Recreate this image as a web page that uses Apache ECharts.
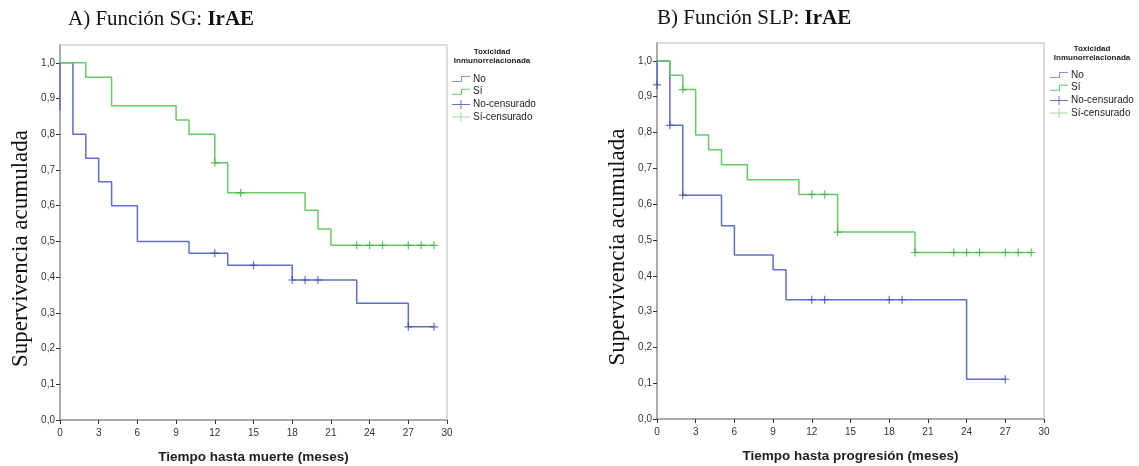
<!DOCTYPE html>
<html>
<head>
<meta charset="utf-8">
<script src="https://cdn.jsdelivr.net/npm/echarts@6/dist/echarts.min.js"></script>
<style>html,body{margin:0;padding:0;background:#fff}#c{width:1139px;height:466px}</style>
</head>
<body>
<div id="c"></div>
<script>
// ---- Data ----
// A) Overall survival (SG)
const sgNoTime = [0, 0, 1, 2, 3, 4, 6, 10, 13, 18, 23, 27, 29];
const sgNoSurv = [0.867, 1, 0.8, 0.733, 0.667, 0.6, 0.5, 0.467, 0.433, 0.392, 0.327, 0.261, 0.261];
const sgNoCensTime = [12, 15, 18, 19, 20, 27, 29];
const sgNoCensSurv = [0.467, 0.433, 0.392, 0.392, 0.392, 0.261, 0.261];
const sgSiTime = [0, 2, 4, 9, 10, 12, 13, 19, 20, 21, 29];
const sgSiSurv = [1, 0.96, 0.88, 0.84, 0.80, 0.72, 0.636, 0.587, 0.535, 0.489, 0.489];
const sgSiCensTime = [12, 14, 23, 24, 25, 27, 28, 29];
const sgSiCensSurv = [0.72, 0.636, 0.489, 0.489, 0.489, 0.489, 0.489, 0.489];
// B) Progression-free survival (SLP)
const slpNoTime = [0, 0, 1, 2, 5, 6, 9, 10, 24, 27];
const slpNoSurv = [0.933, 1, 0.82, 0.625, 0.54, 0.458, 0.417, 0.333, 0.111, 0.111];
const slpNoCensTime = [0, 1, 2, 12, 13, 18, 19, 27];
const slpNoCensSurv = [0.933, 0.82, 0.625, 0.333, 0.333, 0.333, 0.333, 0.111];
const slpSiTime = [0, 1, 2, 3, 4, 5, 7, 11, 14, 20, 29];
const slpSiSurv = [1, 0.96, 0.92, 0.793, 0.752, 0.71, 0.668, 0.627, 0.522, 0.465, 0.465];
const slpSiCensTime = [2, 12, 13, 14, 20, 23, 24, 25, 27, 28, 29];
const slpSiCensSurv = [0.92, 0.627, 0.627, 0.522, 0.465, 0.465, 0.465, 0.465, 0.465, 0.465, 0.465];

const yTicks = [0, 0.1, 0.2, 0.3, 0.4, 0.5, 0.6, 0.7, 0.8, 0.9, 1.0];
const legendNames = ['No', 'Sí', 'No-censurado', 'Sí-censurado'];
const titles = ['A) Función SG: ', 'B) Función SLP: '];
const titleBold = 'IrAE';
const xNames = ['Tiempo hasta muerte (meses)', 'Tiempo hasta progresión (meses)'];
const yName = 'Supervivencia acumulada';
const legendTitle = 'Toxicidad\nInmunorrelacionada';

// ---- Styling ----
const BLUE = '#5b70c6', BLUE_D = '#3a4fb2', BLUE_L = '#8595d8';
const GREEN = '#66ca66', GREEN_D = '#39b039', GREEN_L = '#7fd47f';
const CROSS = 'path://M0,3.4 L8,3.4 L8,4.6 L0,4.6 Z M3.4,0 L4.6,0 L4.6,8 L3.4,8 Z';
const STEP_ICON = 'path://M0,5 L9,5 L9,0 L18,0 L18,1 L10,1 L10,6 L0,6 Z';
const CROSS_ICON = 'path://M0,4 L18,4 L18,5 L0,5 Z M8.5,0 L9.5,0 L9.5,9 L8.5,9 Z';

const zip = (a, b) => a.map((v, i) => [v, b[i]]);

const grids = [
  { left: 60, right: 692, top: 45, bottom: 46 },
  { left: 657, right: 95, top: 43, bottom: 47 }
];

function axisPair(i) {
  const x = {
    type: 'value', gridIndex: i, min: 0, max: 30, interval: 3,
    name: xNames[i], nameLocation: 'middle', nameGap: 30,
    nameTextStyle: { fontFamily: 'Liberation Sans, Arial', fontWeight: 'bold', fontSize: 13.5, color: '#222' },
    axisLine: { show: true, lineStyle: { color: '#9a9a9a', width: 1.5 } },
    axisTick: { show: true, length: 4, lineStyle: { color: '#333' } },
    axisLabel: { fontFamily: 'Liberation Sans, Arial', fontSize: 10, color: '#333', margin: 8 },
    splitLine: { show: false }
  };
  const y = {
    type: 'value', gridIndex: i, min: 0, max: 1.05,
    name: yName, nameLocation: 'middle', nameRotate: 90, nameGap: 28,
    nameTextStyle: { fontFamily: 'Liberation Serif, serif', fontSize: 23, color: '#111', padding: [0, 32, 0, 0] },
    axisLine: { show: true, lineStyle: { color: '#9a9a9a', width: 1.5 } },
    axisTick: { show: true, length: 4, lineStyle: { color: '#333' }, customValues: yTicks },
    axisLabel: {
      fontFamily: 'Liberation Sans, Arial', fontSize: 10, color: '#333', margin: 5,
      customValues: yTicks,
      formatter: v => v.toFixed(1).replace('.', ',')
    },
    splitLine: { show: false }
  };
  return [x, y];
}
const ax0 = axisPair(0), ax1 = axisPair(1);

function stepSeries(name, i, t, s, color) {
  return {
    type: 'line', name, xAxisIndex: i, yAxisIndex: i, step: 'end',
    data: zip(t, s), showSymbol: false, symbol: 'none',
    lineStyle: { color, width: 1.5 }, itemStyle: { color }, z: name === 'Sí' ? 3 : 2
  };
}
function censSeries(name, i, t, s, color) {
  return {
    type: 'scatter', name, xAxisIndex: i, yAxisIndex: i,
    data: zip(t, s), symbol: CROSS, symbolSize: 8,
    itemStyle: { color }, z: 5
  };
}

function legendFor(left, top) {
  return {
    orient: 'vertical', left, top, padding: 0, itemWidth: 18, itemHeight: 10, itemGap: 2.7,
    textStyle: { fontFamily: 'Liberation Sans, Arial', fontSize: 10, color: '#222', padding: [0, 0, 0, -2] },
    selectedMode: false,
    data: [
      { name: legendNames[0], icon: STEP_ICON, itemStyle: { color: BLUE_L, borderWidth: 0 } },
      { name: legendNames[1], icon: STEP_ICON, itemStyle: { color: GREEN, borderWidth: 0 } },
      { name: legendNames[2], icon: CROSS_ICON, itemStyle: { color: BLUE_D, borderWidth: 0 } },
      { name: legendNames[3], icon: CROSS_ICON, itemStyle: { color: GREEN_L, borderWidth: 0 } }
    ]
  };
}

const titleStyle = {
  fontWeight: 'normal',
  rich: {
    n: { fontFamily: 'Liberation Serif, serif', fontSize: 21, fontWeight: 'normal', color: '#111' },
    b: { fontFamily: 'Liberation Serif, serif', fontSize: 21, fontWeight: 'bold', color: '#111' }
  }
};

const option = {
  animation: false,
  backgroundColor: '#fff',
  title: [
    { text: '{n|' + titles[0] + '}{b|' + titleBold + '}', left: 63, top: 4, textStyle: titleStyle },
    { text: '{n|' + titles[1] + '}{b|' + titleBold + '}', left: 652, top: 3, textStyle: titleStyle }
  ],
  graphic: [
    { type: 'text', x: 492, y: 47, style: { text: legendTitle, textAlign: 'center', font: 'bold 8px Liberation Sans, Arial', fill: '#222', lineHeight: 9.5 } },
    { type: 'text', x: 1092, y: 44, style: { text: legendTitle, textAlign: 'center', font: 'bold 8px Liberation Sans, Arial', fill: '#222', lineHeight: 9.5 } }
  ],
  legend: [legendFor(452, 74), legendFor(1050, 70)],
  grid: grids.map(g => Object.assign({ show: true, borderColor: '#cfcfcf', borderWidth: 1.5, containLabel: false, outerBoundsMode: 'none' }, g)),
  xAxis: [ax0[0], ax1[0]],
  yAxis: [ax0[1], ax1[1]],
  series: [
    stepSeries('No', 0, sgNoTime, sgNoSurv, BLUE),
    stepSeries('Sí', 0, sgSiTime, sgSiSurv, GREEN),
    censSeries('No-censurado', 0, sgNoCensTime, sgNoCensSurv, BLUE_D),
    censSeries('Sí-censurado', 0, sgSiCensTime, sgSiCensSurv, GREEN_D),
    stepSeries('No', 1, slpNoTime, slpNoSurv, BLUE),
    stepSeries('Sí', 1, slpSiTime, slpSiSurv, GREEN),
    censSeries('No-censurado', 1, slpNoCensTime, slpNoCensSurv, BLUE_D),
    censSeries('Sí-censurado', 1, slpSiCensTime, slpSiCensSurv, GREEN_D)
  ]
};

const chart = echarts.init(document.getElementById('c'), null, { renderer: 'canvas' });
chart.setOption(option);
</script>
</body>
</html>
